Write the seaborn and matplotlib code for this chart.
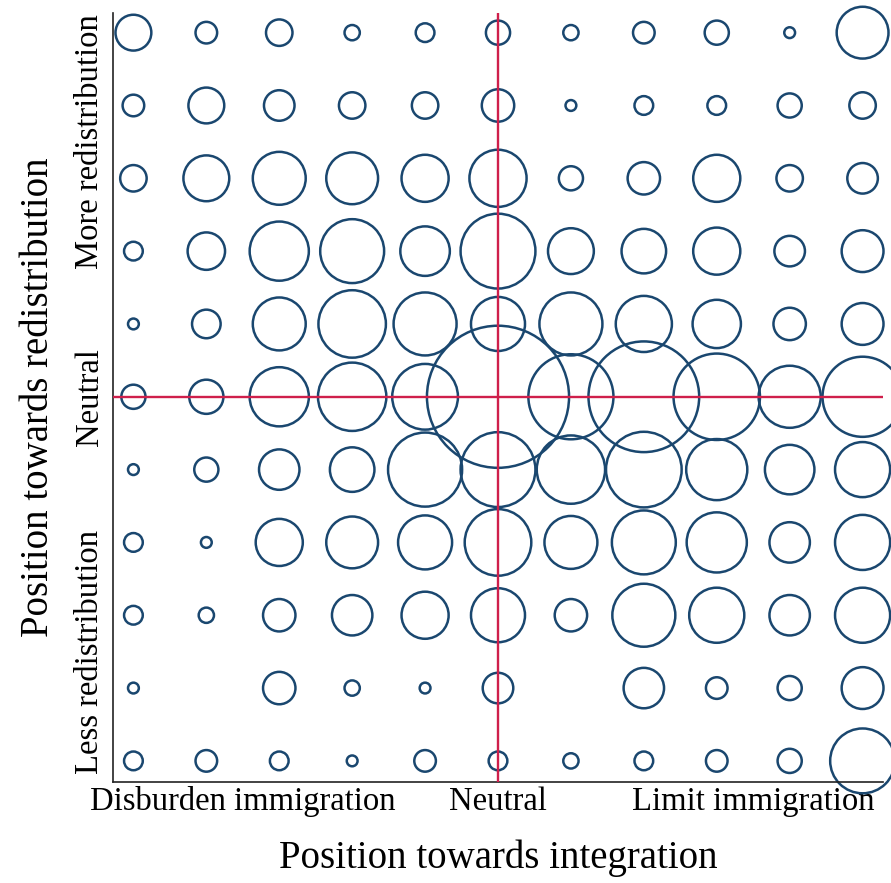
import numpy as np
import pandas as pd
import matplotlib
matplotlib.use("Agg")
import matplotlib.pyplot as plt
import seaborn as sns

# Positions on each scale (0..10)
integration_levels = list(range(11))
redistribution_levels = list(range(11))

# Frequencies per cell, rows from redistribution = 10 (top) down to 0 (bottom),
# columns from integration = 0 (left) to 10 (right)
row_10 = [11, 4, 6, 2, 3, 5, 2, 4, 5, 1, 23]
row_9 = [4, 11, 8, 6, 6, 9, 1, 3, 3, 5, 6]
row_8 = [6, 18, 24, 23, 19, 28, 5, 9, 19, 6, 8]
row_7 = [3, 12, 30, 35, 21, 48, 18, 17, 19, 8, 15]
row_6 = [1, 7, 24, 39, 34, 25, 34, 27, 20, 9, 15]
row_5 = [5, 10, 30, 40, 37, 173, 62, 105, 64, 33, 55]
row_4 = [1, 5, 14, 17, 47, 48, 40, 49, 32, 21, 26]
row_3 = [3, 1, 19, 23, 25, 38, 24, 35, 31, 14, 26]
row_2 = [3, 2, 9, 14, 19, 25, 9, 34, 26, 14, 26]
row_1 = [1, 0, 9, 2, 1, 8, 0, 14, 4, 5, 15]
row_0 = [3, 4, 3, 1, 4, 3, 2, 3, 4, 5, 36]

x_tick_positions = [1.5, 5, 8.5]
x_tick_labels = ["Disburden immigration", "Neutral", "Limit immigration"]
y_tick_positions = [1.5, 5, 8.5]
y_tick_labels = ["Less redistribution", "Neutral", "More redistribution"]

rows = {10: row_10, 9: row_9, 8: row_8, 7: row_7, 6: row_6, 5: row_5,
        4: row_4, 3: row_3, 2: row_2, 1: row_1, 0: row_0}

records = []
for yv, vals in rows.items():
    for xv, c in zip(integration_levels, vals):
        if c > 0:
            records.append({"integration": xv, "redistribution": yv, "count": c})
df = pd.DataFrame(records)

sns.set_theme(style="white")
plt.rcParams["font.family"] = ["Liberation Serif", "DejaVu Serif"]

fig = plt.figure(figsize=(8.91, 8.83), dpi=100)
ax = fig.add_axes([113 / 891, 1 - 782 / 883, (883 - 113) / 891, (782 - 13) / 883])

area_per_count = 60.5  # points^2 per unit
maxc = df["count"].max()
sns.scatterplot(
    data=df, x="integration", y="redistribution", size="count",
    sizes=(0, area_per_count * maxc), size_norm=(0, maxc),
    facecolor="none", edgecolor="#1a476f", linewidth=1.8,
    legend=False, ax=ax, clip_on=False, zorder=2,
)

red = "#cf1f4b"
ax.axvline(5, color=red, lw=1.7, zorder=3)
ax.axhline(5, color=red, lw=1.7, zorder=3)

ax.set_xlim(-0.28, 10.28)
ax.set_ylim(-0.29, 10.27)

ax.set_xticks(x_tick_positions)
ax.set_xticklabels(x_tick_labels, fontsize=23.5)
ax.set_yticks(y_tick_positions)
ax.set_yticklabels(y_tick_labels, fontsize=23.5, rotation=90, va="center")
ax.tick_params(axis="x", length=0, pad=3, colors="black")
ax.tick_params(axis="y", length=0, pad=6, colors="black")

ax.set_xlabel("Position towards integration", fontsize=28, labelpad=16, color="black")
ax.set_ylabel("Position towards redistribution", fontsize=28, labelpad=12, color="black")

for s in ["top", "right"]:
    ax.spines[s].set_visible(False)
for s in ["left", "bottom"]:
    ax.spines[s].set_color("#222222")
    ax.spines[s].set_linewidth(1.2)
ax.grid(False)

fig.savefig("out.png", dpi=100)
